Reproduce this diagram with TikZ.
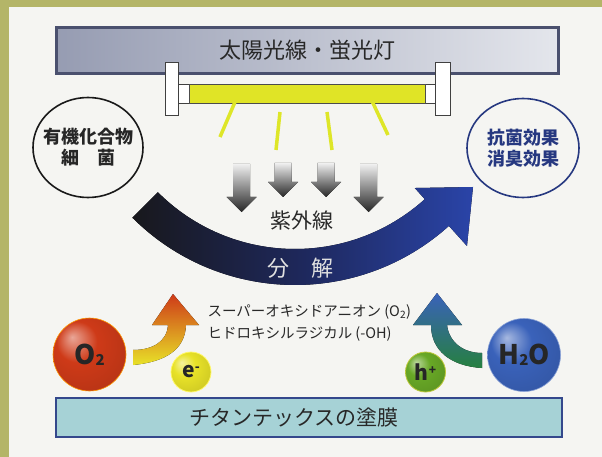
\documentclass[tikz,border=0pt]{standalone}
\usepackage{fontspec}
\setmainfont{Noto Sans CJK JP}
\usetikzlibrary{calc,shapes.geometric}
\definecolor{framegreen}{RGB}{180,181,104}
\definecolor{paperwhite}{RGB}{245,245,242}
\definecolor{slateedge}{RGB}{74,80,110}
\definecolor{slatedark}{RGB}{150,156,178}
\definecolor{slatelight}{RGB}{228,230,236}
\definecolor{tubeyellow}{RGB}{224,228,38}
\definecolor{rayyellow}{RGB}{222,230,40}
\definecolor{arcblack}{RGB}{24,24,28}
\definecolor{arcnavy}{RGB}{30,40,92}
\definecolor{arcblue}{RGB}{42,68,168}
\definecolor{navyink}{RGB}{38,56,128}
\definecolor{coatfill}{RGB}{166,210,214}
\definecolor{coatedge}{RGB}{52,72,140}
\definecolor{oxyred}{RGB}{206,58,24}
\definecolor{oxyorange}{RGB}{222,128,32}
\definecolor{waterblue}{RGB}{58,98,186}
\definecolor{watergreen}{RGB}{38,128,64}
\definecolor{elecyellow}{RGB}{232,226,40}
\definecolor{holegreen}{RGB}{104,168,38}
\definecolor{textgrey}{RGB}{40,40,40}
\colorlet{ballcol}{red}
\pgfdeclareradialshading[ballcol]{softball}{\pgfqpoint{-12bp}{12bp}}{color(0bp)=(ballcol!45!white); color(14bp)=(ballcol); color(40bp)=(ballcol!85!black); color(50bp)=(ballcol!70!black)}

\begin{document}
\begin{tikzpicture}[x=1pt,y=-1pt,
  lampcap/.style={draw=black!75,fill=white,line width=0.8pt},
  ray/.style={draw=rayyellow,line width=3.5pt},
  uvarrow/.style={top color=black!6,bottom color=black!85},
  sphere/.style={circle,inner sep=0pt,shading=softball,/utils/exec={\colorlet{ballcol}{#1}}},
  bigball/.style={minimum size=73pt,font=\fontsize{27}{27}\selectfont\bfseries,text=black!85},
  smallball/.style={minimum size=40pt,font=\fontsize{21}{21}\selectfont\bfseries,text=black!85},
  target/.style={ellipse,inner sep=-7pt,minimum width=110pt,minimum height=100pt,line width=1.6pt,align=center,font=\fontsize{18}{21}\selectfont\bfseries}]
\useasboundingbox (0,0) rectangle (602,457);
\fill[framegreen] (0,0) rectangle (602,457);
\fill[paperwhite] (9,7) rectangle (602,457);

\node[draw=slateedge,line width=3.5pt,left color=slatedark,right color=slatelight,minimum width=502pt,minimum height=46pt,inner sep=0pt,font=\fontsize{22}{22}\selectfont,text=textgrey] (source) at (307.5,50.5) {太陽光線・蛍光灯};

% lamp
\draw[lampcap] (178.5,84.5) rectangle (435.7,103.6);
\draw[draw=black!70,fill=tubeyellow,line width=0.8pt] (189,84.5) rectangle (425,103.6);
\draw[lampcap] (165,62.5) rectangle (178.5,115);
\draw[lampcap] (435.7,62.5) rectangle (450,115);
\foreach \xa/\ya/\xb/\yb in {235/102/220/137,280/112/276/150,327/112/332/150,372/101/388/135}
  \draw[ray] (\xa,\ya) -- (\xb,\yb);

% ultraviolet arrows
\foreach \cx/\ytop/\yhead in {241.5/164/197,283/163/182,326/163/182,368.5/164/197}
  \fill[uvarrow] (\cx-8.5,\ytop) -- (\cx+8.5,\ytop) -- (\cx+8.5,\yhead) -- (\cx+15,\yhead) -- (\cx,\yhead+15) -- (\cx-15,\yhead) -- (\cx-8.5,\yhead) -- cycle;
\node[font=\fontsize{21}{21}\selectfont,text=textgrey] (uv) at (302,221) {紫外線};

% decomposition arc
\coordinate (hub) at (295,55);
\fill[left color=arcblack,right color=arcblue,middle color=arcnavy] ($(hub)+(135:230)$) arc[start angle=135,end angle=48,radius=230] -- ($(hub)+(48:257)$) -- (473,187) -- ($(hub)+(48:179)$) -- ($(hub)+(48:194)$) arc[start angle=48,end angle=135,radius=194] -- cycle;
\node[font=\fontsize{22}{22}\selectfont,text=white!88!black] (split) at (300,268) {分　解};

\node[target,draw=black!90,text=black!85] (organic) at (88,147.5) {有機化合物\\細　菌};
\node[target,draw=navyink,text=navyink,minimum width=112pt,minimum height=99pt] (effect) at (523,148) {抗菌効果\\消臭効果};

% reactions on the coating
\fill[bottom color=elecyellow,middle color=oxyorange,top color=oxyred] (133,350) -- (133,365) .. controls (165,362) and (185,350) .. (186,325) -- (199,325) -- (173,294) -- (152,325) -- (168,325) .. controls (167,342) and (152,350) .. (133,350) -- cycle;
\fill[bottom color=watergreen,top color=waterblue] (482,353) -- (482,368) .. controls (450,366) and (431,350) .. (431,325) -- (413,325) -- (437,293) -- (462,325) -- (447,325) .. controls (449,342) and (463,353) .. (482,353) -- cycle;

\node[sphere=oxyred,bigball,draw=orange!80!yellow,line width=0.6pt] (oxygen) at (89.5,354.5) {O\raisebox{-1pt}{\fontsize{15}{15}\selectfont 2}};
\node[sphere=waterblue,bigball,draw=waterblue!60!white,line width=0.6pt] (water) at (524,355) {H\raisebox{-1pt}{\fontsize{15}{15}\selectfont 2}O};
\node[sphere=elecyellow,smallball,draw=yellow!60!white,line width=0.8pt] (electron) at (191,372) {e\raisebox{6pt}{\fontsize{13}{13}\selectfont -}};
\node[sphere=holegreen,smallball,draw=yellow!50!holegreen,line width=0.8pt] (hole) at (425.5,372) {h\raisebox{6pt}{\fontsize{12}{12}\selectfont +}};

\node[anchor=west,font=\fontsize{14.5}{14.5}\selectfont,text=textgrey] (superoxide) at (204,312) {スーパーオキシドアニオン (O\textsubscript{2})};
\node[anchor=west,font=\fontsize{14.5}{14.5}\selectfont,text=textgrey] (hydroxyl) at (204,334) {ヒドロキシルラジカル (-OH)};

\node[draw=coatedge,fill=coatfill,line width=1.8pt,minimum width=506pt,minimum height=39pt] (coat) at (309,417.5) {};
\node[font=\fontsize{21}{21}\selectfont,text=textgrey] (coatlabel) at (294,418) {チタンテックスの塗膜};
\end{tikzpicture}
\end{document}
